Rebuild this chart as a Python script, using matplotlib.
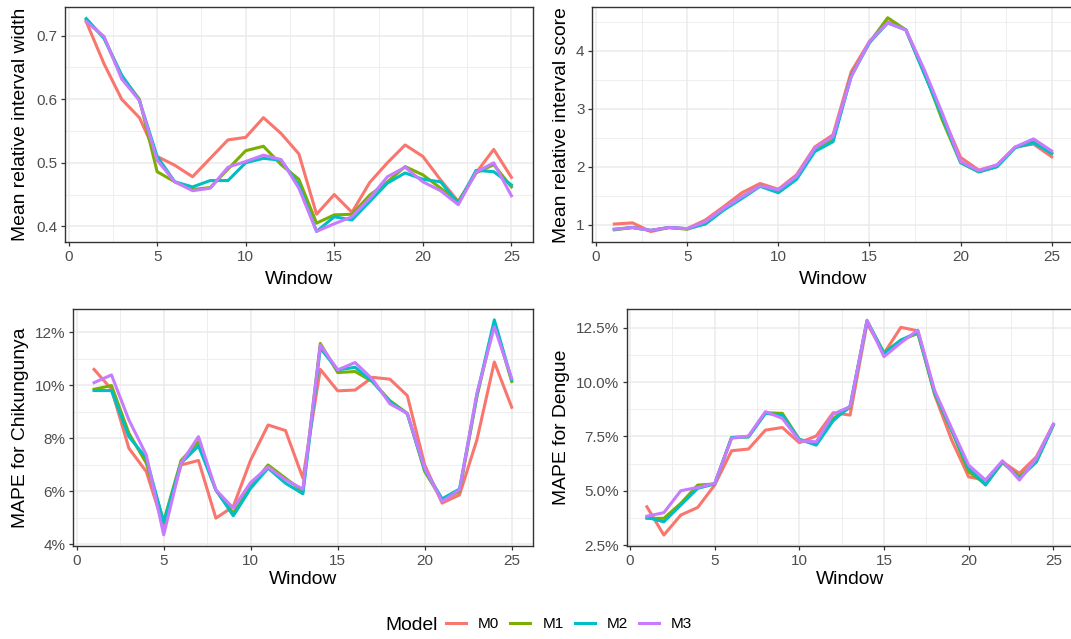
import matplotlib
matplotlib.use("Agg")
import matplotlib.pyplot as plt
from matplotlib.ticker import FuncFormatter, FixedLocator

plt.rcParams['font.family'] = ['Liberation Sans', 'DejaVu Sans']

windows = list(range(1, 26))
models = ["M0", "M1", "M2", "M3"]
colors = ["#F8766D", "#7CAE00", "#00BFC4", "#C77CFF"]

width_M0 = [0.722, 0.656, 0.600, 0.571, 0.510, 0.496, 0.478, 0.507, 0.536, 0.540, 0.571, 0.546, 0.514,
            0.419, 0.450, 0.422, 0.469, 0.500, 0.528, 0.510, 0.473, 0.439, 0.484, 0.521, 0.477]
width_M1 = [0.725, 0.697, 0.636, 0.600, 0.486, 0.470, 0.458, 0.461, 0.490, 0.519, 0.526, 0.497, 0.474,
            0.405, 0.418, 0.419, 0.449, 0.470, 0.494, 0.481, 0.460, 0.439, 0.484, 0.497, 0.462]
width_M2 = [0.727, 0.696, 0.638, 0.598, 0.510, 0.470, 0.462, 0.472, 0.472, 0.500, 0.507, 0.504, 0.465,
            0.392, 0.415, 0.410, 0.439, 0.468, 0.484, 0.474, 0.470, 0.436, 0.488, 0.486, 0.465]
width_M3 = [0.722, 0.699, 0.632, 0.598, 0.504, 0.470, 0.456, 0.460, 0.493, 0.502, 0.512, 0.505, 0.460,
            0.392, 0.404, 0.415, 0.444, 0.478, 0.493, 0.470, 0.456, 0.434, 0.485, 0.500, 0.448]

score_M0 = [1.01, 1.03, 0.88, 0.95, 0.93, 1.08, 1.31, 1.55, 1.71, 1.61, 1.86, 2.34, 2.55,
            3.64, 4.16, 4.50, 4.36, 3.61, 2.89, 2.16, 1.94, 2.03, 2.34, 2.39, 2.17]
score_M1 = [0.91, 0.95, 0.90, 0.95, 0.92, 1.02, 1.26, 1.48, 1.67, 1.59, 1.80, 2.29, 2.46,
            3.58, 4.14, 4.57, 4.36, 3.64, 2.80, 2.07, 1.91, 2.00, 2.33, 2.43, 2.23]
score_M2 = [0.92, 0.95, 0.90, 0.95, 0.93, 1.01, 1.25, 1.45, 1.66, 1.55, 1.78, 2.26, 2.43,
            3.56, 4.14, 4.48, 4.36, 3.61, 2.86, 2.07, 1.91, 2.00, 2.33, 2.41, 2.23]
score_M3 = [0.92, 0.95, 0.90, 0.95, 0.93, 1.05, 1.28, 1.48, 1.67, 1.60, 1.83, 2.32, 2.52,
            3.55, 4.16, 4.48, 4.36, 3.68, 2.92, 2.09, 1.93, 2.03, 2.34, 2.48, 2.27]

chik_M0 = [10.60, 9.85, 7.62, 6.74, 4.67, 6.99, 7.16, 4.98, 5.42, 7.18, 8.50, 8.29, 6.49,
           10.60, 9.79, 9.82, 10.30, 10.23, 9.61, 6.99, 5.55, 5.86, 7.94, 10.88, 9.17]
chik_M1 = [9.85, 9.99, 8.19, 7.06, 4.86, 7.16, 7.87, 6.03, 5.17, 6.18, 6.99, 6.49, 5.99,
           11.58, 10.48, 10.52, 10.14, 9.42, 8.94, 6.74, 5.67, 5.99, 9.57, 12.36, 10.14]
chik_M2 = [9.80, 9.80, 8.06, 7.25, 4.82, 7.06, 7.71, 6.05, 5.07, 6.11, 6.87, 6.30, 5.90,
           11.40, 10.58, 10.68, 10.14, 9.38, 8.92, 6.81, 5.71, 6.08, 9.64, 12.47, 10.20]
chik_M3 = [10.10, 10.39, 8.69, 7.37, 4.35, 7.06, 8.06, 6.05, 5.36, 6.33, 6.91, 6.43, 6.08,
           11.52, 10.58, 10.86, 10.23, 9.30, 8.94, 6.87, 5.61, 6.05, 9.70, 12.21, 10.26]

deng_M0 = [4.26, 2.96, 3.88, 4.23, 5.26, 6.84, 6.92, 7.79, 7.91, 7.21, 7.52, 8.59, 8.48,
           12.70, 11.32, 12.52, 12.36, 9.40, 7.33, 5.64, 5.49, 6.33, 5.80, 6.56, 8.05]
deng_M1 = [3.73, 3.73, 4.42, 5.26, 5.31, 7.45, 7.48, 8.59, 8.56, 7.36, 7.18, 8.33, 8.83,
           12.82, 11.35, 11.93, 12.24, 9.45, 7.76, 5.87, 5.31, 6.29, 5.64, 6.33, 8.02]
deng_M2 = [3.77, 3.57, 4.34, 5.11, 5.31, 7.45, 7.48, 8.56, 8.48, 7.36, 7.10, 8.22, 8.90,
           12.82, 11.32, 11.93, 12.30, 9.51, 7.79, 6.03, 5.26, 6.33, 5.57, 6.33, 8.02]
deng_M3 = [3.83, 3.99, 5.00, 5.15, 5.34, 7.41, 7.52, 8.64, 8.33, 7.30, 7.25, 8.53, 8.87,
           12.85, 11.17, 11.81, 12.39, 9.60, 7.87, 6.18, 5.49, 6.38, 5.49, 6.49, 8.07]

ylabels = ["Mean relative interval width", "Mean relative interval score",
           "MAPE for Chikungunya", "MAPE for Dengue"]

W, H = 1071, 639
fig = plt.figure(figsize=(W / 100, H / 100), dpi=100)
fig.patch.set_facecolor("white")


def add_ax(left, right, top, bottom):
    return fig.add_axes([left / W, (H - bottom) / H, (right - left) / W, (bottom - top) / H])


panels = [
    dict(box=(65, 532.7, 7.3, 242), data=[width_M0, width_M1, width_M2, width_M3],
         ylim=(0.3753, 0.7447), yt=[0.4, 0.5, 0.6, 0.7], ym=[0.45, 0.55, 0.65],
         fmt=lambda v, p: f"{v:.1f}", ylx=21, wly=279),
    dict(box=(592.4, 1073.6, 7.3, 242), data=[score_M0, score_M1, score_M2, score_M3],
         ylim=(0.70, 4.75), yt=[1, 2, 3, 4], ym=[1.5, 2.5, 3.5, 4.5],
         fmt=lambda v, p: f"{v:.0f}", ylx=561, wly=279),
    dict(box=(73.2, 532.6, 309.3, 545.7), data=[chik_M0, chik_M1, chik_M2, chik_M3],
         ylim=(3.94, 12.87), yt=[4, 6, 8, 10, 12], ym=[5, 7, 9, 11],
         fmt=lambda v, p: f"{v:.0f}%", ylx=21, wly=580),
    dict(box=(626.6, 1073.6, 309.3, 545.7), data=[deng_M0, deng_M1, deng_M2, deng_M3],
         ylim=(2.47, 13.35), yt=[2.5, 5.0, 7.5, 10.0, 12.5], ym=[3.75, 6.25, 8.75, 11.25],
         fmt=lambda v, p: f"{v:.1f}%", ylx=561, wly=580),
]

title_fs = 13.9
tick_fs = 11.0
handles = []
for i, p in enumerate(panels):
    l, r, t, b = p["box"]
    ax = add_ax(l, r, t, b)
    ax.set_facecolor("white")
    for s in ax.spines.values():
        s.set_color("#333333")
        s.set_linewidth(1.0)
    ax.set_xlim(-0.2, 26.2)
    ax.set_ylim(*p["ylim"])
    ax.xaxis.set_major_locator(FixedLocator([0, 5, 10, 15, 20, 25]))
    ax.xaxis.set_minor_locator(FixedLocator([2.5, 7.5, 12.5, 17.5, 22.5]))
    ax.yaxis.set_major_locator(FixedLocator(p["yt"]))
    ax.yaxis.set_minor_locator(FixedLocator(p["ym"]))
    ax.yaxis.set_major_formatter(FuncFormatter(p["fmt"]))
    ax.grid(which="major", color="#EBEBEB", linewidth=1.1)
    ax.grid(which="minor", color="#EBEBEB", linewidth=0.6)
    ax.set_axisbelow(True)
    ax.tick_params(which="major", length=3.2, width=0.9, color="#333333",
                   labelsize=tick_fs, labelcolor="#4D4D4D", pad=2.5)
    ax.tick_params(which="minor", length=0)
    lines = []
    for m, c, y in zip(models, colors, p["data"]):
        ln, = ax.plot(windows, y, color=c, linewidth=2.2, label=m, solid_joinstyle="round")
        lines.append(ln)
    if i == 0:
        handles = lines
    fig.text(p["ylx"] / W, 1 - ((t + b) / 2) / H, ylabels[i], rotation=90,
             ha="center", va="center", fontsize=title_fs, color="black")
    fig.text(((l + r) / 2) / W, 1 - p["wly"] / H, "Window",
             ha="center", va="center", fontsize=title_fs, color="black")

fig.text(385 / W, 1 - 625 / H, "Model", ha="left", va="center", fontsize=title_fs, color="black")
fs_px = tick_fs * 100 / 72
leg = fig.legend(handles=handles, labels=models, loc="center left",
                 bbox_to_anchor=(446 / W, 1 - 624 / H), ncol=4, frameon=False,
                 fontsize=tick_fs, handlelength=20 / fs_px, handletextpad=12 / fs_px,
                 columnspacing=11 / fs_px, borderpad=0, borderaxespad=0)
for txt in leg.get_texts():
    txt.set_color("black")

fig.savefig("out.png", dpi=100, facecolor="white")
